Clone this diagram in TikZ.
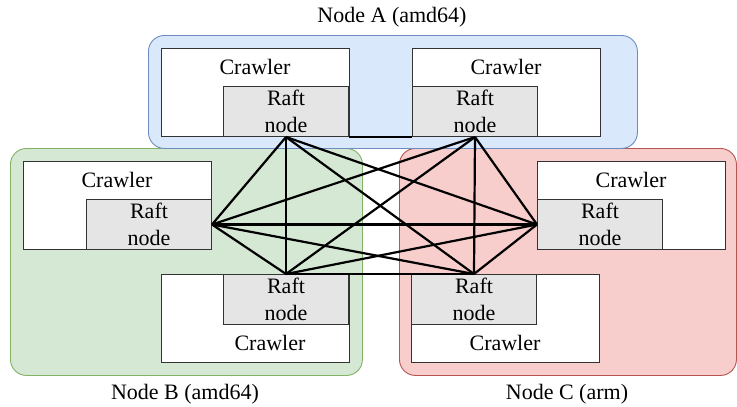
\documentclass[tikz,border=0pt]{standalone}
\usepackage{fontspec}
\setmainfont{Liberation Serif}
\begin{document}
\begin{tikzpicture}[x=1pt,y=-1pt,
  grp/.style={draw, line width=0.9pt, rounded corners=16pt, anchor=north west, inner sep=0pt},
  crawler/.style={draw=black!80, fill=white, line width=1pt, minimum width=188pt, minimum height=88pt, anchor=north west, inner sep=0pt},
  raft/.style={draw=black!80, fill=black!10, line width=1pt, minimum width=125pt, minimum height=50pt, anchor=north west, inner sep=0pt, align=center, font=\fontsize{22}{27}\selectfont},
  txt/.style={font=\fontsize{22}{27}\selectfont, inner sep=0pt},
  link/.style={line width=2.2pt, black}]
  \useasboundingbox (0,0) rectangle (737,407);
  \definecolor{blueFill}{HTML}{DAE8FC}\definecolor{blueLine}{HTML}{6C8EBF}
  \definecolor{greenFill}{HTML}{D5E8D4}\definecolor{greenLine}{HTML}{82B366}
  \definecolor{redFill}{HTML}{F8CECC}\definecolor{redLine}{HTML}{B85450}

  % host groups
  \node[grp, fill=greenFill, draw=greenLine, minimum width=352pt, minimum height=227pt] (grpB) at (10,148) {};
  \node[grp, fill=redFill, draw=redLine, minimum width=337pt, minimum height=227pt] (grpC) at (399,148) {};
  \node[grp, fill=blueFill, draw=blueLine, minimum width=489pt, minimum height=113pt] (grpA) at (148,35) {};
  \node[txt] (lblA) at (392,17) {Node A (amd64)};
  \node[txt] (lblB) at (185,394) {Node B (amd64)};
  \node[txt] (lblC) at (567,394) {Node C (arm)};

  % crawlers with their raft nodes
  \node[crawler] (cAL) at (161,48) {};
  \node[raft] (rAL) at (223,86) {Raft\\node};
  \node[txt] (tAL) at (255,67) {Crawler};

  \node[crawler] (cAR) at (412,48) {};
  \node[raft] (rAR) at (412,86) {Raft\\node};
  \node[txt] (tAR) at (506,67) {Crawler};

  \node[crawler] (cBT) at (23,161) {};
  \node[raft] (rBT) at (86,199) {Raft\\node};
  \node[txt] (tBT) at (117,180) {Crawler};

  \node[crawler] (cBB) at (161,274) {};
  \node[raft] (rBB) at (223,274) {Raft\\node};
  \node[txt] (tBB) at (270,343) {Crawler};

  \node[crawler] (cCT) at (537,161) {};
  \node[raft] (rCT) at (537,199) {Raft\\node};
  \node[txt] (tCT) at (631,180) {Crawler};

  \node[crawler] (cCB) at (411,274) {};
  \node[raft] (rCB) at (411,274) {Raft\\node};
  \node[txt] (tCB) at (505,343) {Crawler};

  % full mesh between raft nodes
  \draw[link] (rAL.south east) -- (rAR.south west);
  \draw[link] (rAL.south) -- (rBT.east);
  \draw[link] (rAL.south) -- (rBB.north);
  \draw[link] (rAL.south) -- (rCT.west);
  \draw[link] (rAL.south) -- (rCB.north);
  \draw[link] (rAR.south) -- (rBT.east);
  \draw[link] (rAR.south) -- (rBB.north);
  \draw[link] (rAR.south) -- (rCT.west);
  \draw[link] (rAR.south) -- (rCB.north);
  \draw[link] (rBT.east) -- (rBB.north);
  \draw[link] (rBT.east) -- (rCT.west);
  \draw[link] (rBT.east) -- (rCB.north);
  \draw[link] (rBB.north) -- (rCT.west);
  \draw[link] (rBB.north) -- (rCB.north);
  \draw[link] (rCT.west) -- (rCB.north);
\end{tikzpicture}
\end{document}
